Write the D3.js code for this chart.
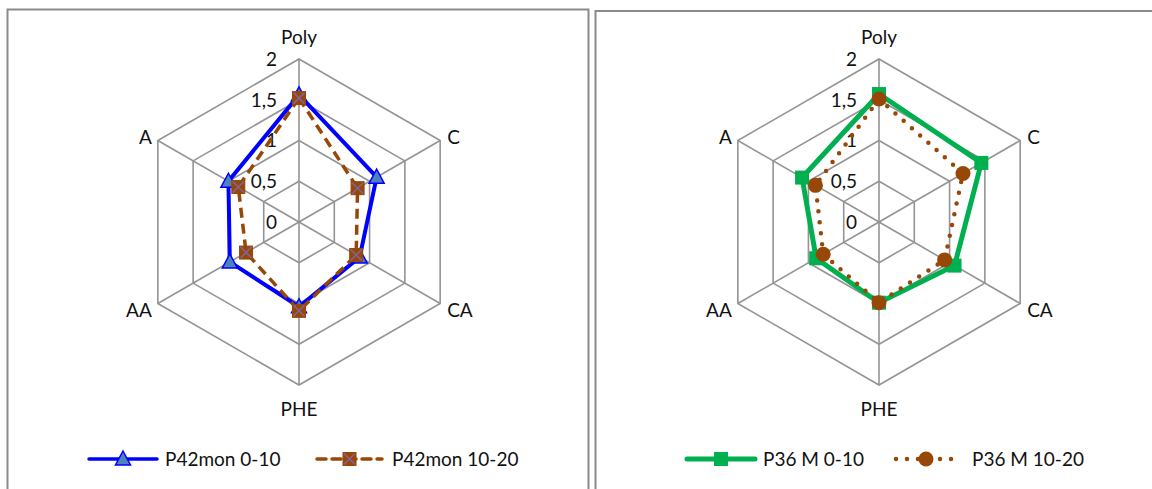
<!DOCTYPE html>
<html><head><meta charset="utf-8">
<script src="https://cdn.jsdelivr.net/npm/d3@7"></script>
<style>
html,body{margin:0;padding:0;background:#fff;}
svg{display:block;font-family:Lato,"Open Sans",sans-serif;}
</style></head>
<body>
<svg id="c" width="1152" height="489"></svg>
<script>
const categories = ["Poly","C","CA","PHE","AA","A"];
const tickValues = [0,0.5,1,1.5,2];
const tickLabels = ["0","0,5","1","1,5","2"];
const p42_0_10  = [1.56,1.10,0.86,1.04,0.98,1.00];
const p42_10_20 = [1.52,0.83,0.81,1.09,0.75,0.86];
const p36_0_10  = [1.57,1.45,1.07,0.99,0.89,1.09];
const p36_10_20 = [1.51,1.19,0.93,0.99,0.79,0.90];
const seriesNames = [["P42mon 0-10","P42mon 10-20"],["P36 M 0-10","P36 M 10-20"]];

const svg = d3.select("#c");
const brown = "#974706";

// panel borders
svg.append("rect").attr("x",7.5).attr("y",9.5).attr("width",581).attr("height",500)
  .attr("fill","none").attr("stroke","#8a8a8a").attr("stroke-width",2);
svg.append("rect").attr("x",595.5).attr("y",11).attr("width",600).attr("height",500)
  .attr("fill","none").attr("stroke","#8a8a8a").attr("stroke-width",2);

function radar(cx, cy, s1, s2, style){
  const g = svg.append("g").attr("transform",`translate(${cx},${cy})`);
  const r = d3.scaleLinear().domain([0,2]).range([0,163]);
  const ang = d3.scalePoint().domain(categories.concat(["_end"])).range([0,2*Math.PI]);
  const pt = (c,v)=>[r(v)*Math.sin(ang(c)), -r(v)*Math.cos(ang(c))];
  // grid
  tickValues.slice(1).forEach(t=>{
    g.append("path").attr("d", d3.line()(categories.map(c=>pt(c,t))) + "Z")
      .attr("fill","none").attr("stroke","#949494").attr("stroke-width",1.6);
  });
  categories.forEach(c=>{
    const p = pt(c,2);
    g.append("line").attr("x1",0).attr("y1",0).attr("x2",p[0]).attr("y2",p[1])
      .attr("stroke","#949494").attr("stroke-width",1.6);
  });
  // tick labels
  tickValues.forEach((t,i)=>{
    g.append("text").attr("x",-22).attr("y",-r(t)).attr("dy","0.36em")
      .attr("text-anchor","end").attr("font-size",19).attr("fill","#111").text(tickLabels[i]);
  });
  // category labels
  categories.forEach(c=>{
    const a = ang(c);
    const p = pt(c,2);
    let x=p[0], y=p[1], anchor="middle", dy="0.36em";
    const low = Math.cos(a) < 0;
    if (c==="Poly"){ y = p[1]-22; }
    else if (c==="PHE"){ y = p[1]+24; }
    else if (Math.sin(a)>0){ x = p[0]+7; anchor="start"; y=p[1]+(low?7:-3); }
    else { x = p[0]-6; anchor="end"; y=p[1]+(low?7:-3); }
    g.append("text").attr("x",x).attr("y",y).attr("dy",dy).attr("text-anchor",anchor)
      .attr("font-size",19).attr("fill","#111").text(c);
  });
  const line = d3.line().curve(d3.curveLinearClosed);
  // series 1
  g.append("path").attr("d", line(categories.map((c,i)=>pt(c,s1[i]))))
    .attr("fill","none").attr("stroke",style.c1).attr("stroke-width",style.w1).attr("stroke-linejoin","miter");
  categories.forEach((c,i)=>{ drawMarker(g, pt(c,s1[i]), style.m1); });
  // series 2
  g.append("path").attr("d", line(categories.map((c,i)=>pt(c,s2[i]))))
    .attr("fill","none").attr("stroke",style.c2).attr("stroke-width",style.w2)
    .attr("stroke-dasharray",style.dash2).attr("stroke-linecap",style.cap2);
  categories.forEach((c,i)=>{ drawMarker(g, pt(c,s2[i]), style.m2); });
}

function drawMarker(g, p, type){
  const [x,y]=p;
  if (type==="tri"){
    g.append("path").attr("d",`M${x},${y-8}L${x+7.5},${y+6}L${x-7.5},${y+6}Z`)
      .attr("fill","#4f81bd").attr("stroke","#0000ff").attr("stroke-width",1.5);
  } else if (type==="sqx"){
    g.append("rect").attr("x",x-6.5).attr("y",y-6.5).attr("width",13).attr("height",13)
      .attr("fill",brown).attr("stroke",brown).attr("stroke-width",1);
    g.append("path").attr("d",`M${x-5.5},${y-5.5}L${x+5.5},${y+5.5}M${x+5.5},${y-5.5}L${x-5.5},${y+5.5}`)
      .attr("stroke","#8064a2").attr("stroke-width",1.5);
  } else if (type==="sq"){
    g.append("rect").attr("x",x-7).attr("y",y-7).attr("width",14).attr("height",14)
      .attr("fill","#00b050");
  } else if (type==="circ"){
    g.append("circle").attr("cx",x).attr("cy",y).attr("r",7.5).attr("fill",brown);
  }
}

radar(299, 222, p42_0_10, p42_10_20, {c1:"#0000ff", w1:4, m1:"tri", c2:brown, w2:3.5, dash2:"10,6", cap2:"butt", m2:"sqx"});
radar(879, 222, p36_0_10, p36_10_20, {c1:"#00b050", w1:5, m1:"sq", c2:brown, w2:4.5, dash2:"0,11", cap2:"round", m2:"circ"});

// legends
function legend(x1, x2, xt, mk, col, w, dash, cap, name){
  const y=459;
  svg.append("line").attr("x1",x1).attr("x2",x2).attr("y1",y).attr("y2",y)
    .attr("stroke",col).attr("stroke-width",w).attr("stroke-dasharray",dash).attr("stroke-linecap",cap);
  drawMarker(svg,[(x1+x2)/2,y],mk);
  svg.append("text").attr("x",xt).attr("y",y).attr("dy","0.36em").attr("font-size",19).attr("fill","#111").text(name);
}
legend(89,157,165,"tri","#0000ff",3.5,null,"round",seriesNames[0][0]);
legend(317,382,392,"sqx",brown,3.5,"9,6","round",seriesNames[0][1]);
legend(687,755,763,"sq","#00b050",5,null,"round",seriesNames[1][0]);
legend(896,956,972,"circ",brown,4.5,"0,11","round",seriesNames[1][1]);
</script>
</body></html>
